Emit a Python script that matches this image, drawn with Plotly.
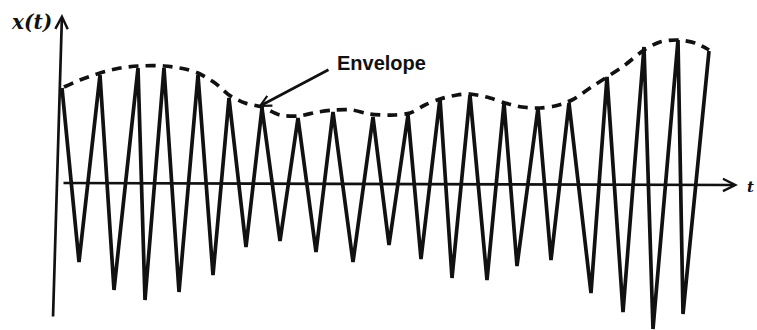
import plotly.graph_objects as go

# Oscillating signal x(t): alternating crests and troughs (time, amplitude)
signal_t = [0.0, 1.7, 3.8, 5.2, 7.6, 8.3, 10.2, 11.7, 13.6, 15.1, 16.7, 18.4,
            20.0, 21.8, 23.6, 25.4, 27.1, 29.1, 31.1, 32.7, 34.6, 35.9, 37.8,
            39.0, 40.8, 42.5, 44.2, 45.5, 47.6, 48.9, 50.7, 52.9, 54.5, 56.1,
            58.2, 59.1, 61.6, 62.1, 64.7]
signal_x = [9.5, -7.9, 10.8, -10.7, 11.5, -11.7, 11.5, -10.9, 10.8, -9.2, 8.5,
            -6.4, 7.5, -5.8, 6.5, -6.9, 7.1, -7.9, 6.6, -6.2, 6.8, -7.6, 8.5,
            -9.5, 8.8, -9.7, 8.0, -8.3, 7.5, -7.7, 8.0, -11.0, 10.6, -12.9,
            13.6, -14.6, 14.3, -13.1, 13.2]

# Upper envelope traced over the crests
env_t = [0.2, 1.8, 3.8, 5.8, 7.6, 10.2, 12.3, 13.6, 15.3, 16.7, 18.3, 20.0,
         21.8, 23.6, 25.6, 27.3, 29.0, 30.8, 33.3, 34.8, 36.3, 37.8, 39.5,
         40.8, 42.8, 44.3, 46.0, 47.8, 49.3, 51.0, 52.8, 54.5, 56.3, 58.2,
         59.8, 61.6, 63.3, 64.7]
env_x = [9.6, 10.3, 11.0, 11.5, 11.7, 11.7, 11.4, 11.0, 10.0, 8.8, 8.0, 7.6,
         6.8, 6.7, 7.1, 7.3, 7.3, 6.9, 6.8, 7.0, 7.8, 8.4, 8.8, 8.9, 8.5, 8.0,
         7.6, 7.5, 7.7, 8.3, 9.5, 10.6, 11.8, 13.3, 14.1, 14.3, 14.0, 13.3]

INK = "#111111"

fig = go.Figure()

fig.add_trace(go.Scatter(
    x=signal_t, y=signal_x, mode="lines",
    line=dict(color=INK, width=3.7),
    hoverinfo="skip",
))

fig.add_trace(go.Scatter(
    x=env_t, y=env_x, mode="lines",
    line=dict(color=INK, width=3.7, dash="10px,7px", shape="spline", smoothing=0.8),
    hoverinfo="skip",
))

# Hand-drawn axes with arrow tips
fig.add_annotation(x=67.6, y=-0.2, ax=0.0, ay=0.0, xref="x", yref="y",
                   axref="x", ayref="y", text="", showarrow=True,
                   arrowhead=5, arrowsize=0.9, arrowwidth=2.7, arrowcolor=INK)
fig.add_annotation(x=0.0, y=16.9, ax=-0.9, ay=-13.5, xref="x", yref="y",
                   axref="x", ayref="y", text="", showarrow=True,
                   arrowhead=5, arrowsize=0.9, arrowwidth=2.7, arrowcolor=INK)

# Pointer to the envelope
fig.add_annotation(x=19.6, y=7.6, ax=26.8, ay=11.4, xref="x", yref="y",
                   axref="x", ayref="y", text="", showarrow=True,
                   arrowhead=5, arrowsize=0.8, arrowwidth=2.7, arrowcolor=INK)

fig.add_annotation(x=31.9, y=12.0, xref="x", yref="y", text="<b>Envelope</b>",
                   showarrow=False, xanchor="center", yanchor="middle",
                   font=dict(family="Liberation Sans", size=20, color=INK))
fig.add_annotation(x=-3.1, y=16.1, xref="x", yref="y", text="<b><i>x(t)</i></b>",
                   showarrow=False, xanchor="center", yanchor="middle",
                   font=dict(family="DejaVu Serif", size=20, color=INK))
fig.add_annotation(x=68.45, y=-0.4, xref="x", yref="y", text="<b><i>t</i></b>",
                   showarrow=False, xanchor="left", yanchor="middle",
                   xshift=-2,
                   font=dict(family="DejaVu Serif", size=15, color=INK))

fig.update_layout(
    width=757, height=330, autosize=False,
    margin=dict(l=0, r=0, t=0, b=0),
    paper_bgcolor="white", plot_bgcolor="white",
    showlegend=False,
    xaxis=dict(range=[-6.2, 69.5], visible=False, fixedrange=True),
    yaxis=dict(range=[-14.7, 18.3], visible=False, fixedrange=True),
)

fig.write_html("out.html")
